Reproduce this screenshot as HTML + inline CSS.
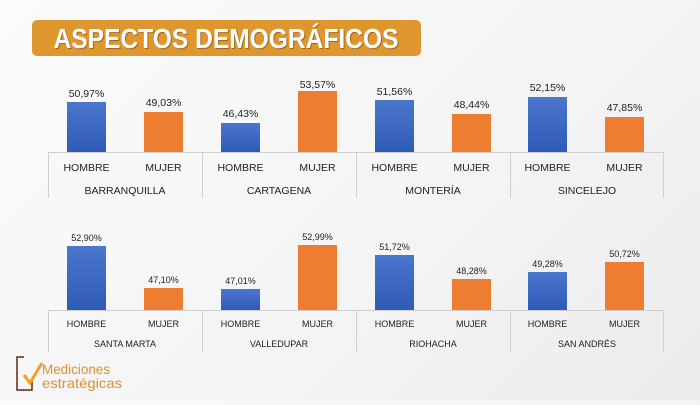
<!DOCTYPE html>
<html><head><meta charset="utf-8"><style>
html,body{margin:0;padding:0;}
body{width:700px;height:400px;overflow:hidden;background:linear-gradient(135deg,#fbfbfb 0%,#f4f4f4 60%,#ebebeb 100%);font-family:"Liberation Sans",sans-serif;}
</style></head><body>
<svg width="700" height="400" viewBox="0 0 700 400" xmlns="http://www.w3.org/2000/svg" font-family="Liberation Sans, sans-serif">
<defs>
<linearGradient id="bl" x1="0" y1="0" x2="0" y2="1"><stop offset="0" stop-color="#4a76cc"/><stop offset="1" stop-color="#2f5bb8"/></linearGradient>
</defs>
<rect x="32" y="20" width="389" height="36" rx="5" fill="#e0962e"/>
<text x="227" y="49" text-anchor="middle" font-size="28" font-weight="bold" fill="#6a3a08" opacity="0.5" textLength="345" lengthAdjust="spacingAndGlyphs">ASPECTOS DEMOGRÁFICOS</text>
<text x="226" y="48" text-anchor="middle" font-size="28" font-weight="bold" fill="#fff" textLength="345" lengthAdjust="spacingAndGlyphs">ASPECTOS DEMOGRÁFICOS</text>

<g stroke="#d0d0d0" stroke-width="1" fill="none">
<line x1="48" y1="152.5" x2="664" y2="152.5"/>
<line x1="48.5" y1="152" x2="48.5" y2="198"/><line x1="202.5" y1="152" x2="202.5" y2="198"/><line x1="356.5" y1="152" x2="356.5" y2="198"/><line x1="510.5" y1="152" x2="510.5" y2="198"/><line x1="663.5" y1="152" x2="663.5" y2="198"/>
<line x1="48" y1="310.5" x2="664" y2="310.5"/>
<line x1="48.5" y1="310" x2="48.5" y2="352"/><line x1="202.5" y1="310" x2="202.5" y2="352"/><line x1="356.5" y1="310" x2="356.5" y2="352"/><line x1="510.5" y1="310" x2="510.5" y2="352"/><line x1="663.5" y1="310" x2="663.5" y2="352"/>
</g>

<g>
<rect x="67" y="102" width="39" height="50" fill="url(#bl)"/>
<rect x="144" y="112" width="39" height="40" fill="#ed7d31"/>
<rect x="221" y="123" width="39" height="29" fill="url(#bl)"/>
<rect x="298" y="91" width="39" height="61" fill="#ed7d31"/>
<rect x="375" y="100" width="39" height="52" fill="url(#bl)"/>
<rect x="452" y="114" width="39" height="38" fill="#ed7d31"/>
<rect x="528" y="97" width="39" height="55" fill="url(#bl)"/>
<rect x="605" y="117" width="39" height="35" fill="#ed7d31"/>

<rect x="67" y="246" width="39" height="64" fill="url(#bl)"/>
<rect x="144" y="288" width="39" height="22" fill="#ed7d31"/>
<rect x="221" y="289" width="39" height="21" fill="url(#bl)"/>
<rect x="298" y="245" width="39" height="65" fill="#ed7d31"/>
<rect x="375" y="255" width="39" height="55" fill="url(#bl)"/>
<rect x="452" y="279" width="39" height="31" fill="#ed7d31"/>
<rect x="528" y="272" width="39" height="38" fill="url(#bl)"/>
<rect x="605" y="262" width="39" height="48" fill="#ed7d31"/>
</g>

<g font-size="10.5" fill="#222" text-anchor="middle">
<text x="86.5" y="97">50,97%</text><text x="163.5" y="106">49,03%</text>
<text x="240.5" y="117">46,43%</text><text x="317.5" y="88">53,57%</text>
<text x="394.5" y="95">51,56%</text><text x="471.5" y="108">48,44%</text>
<text x="547.5" y="91">52,15%</text><text x="624.5" y="111">47,85%</text>
<text x="86.5" y="171">HOMBRE</text><text x="163.5" y="171">MUJER</text>
<text x="240.5" y="171">HOMBRE</text><text x="317.5" y="171">MUJER</text>
<text x="394.5" y="171">HOMBRE</text><text x="471.5" y="171">MUJER</text>
<text x="547.5" y="171">HOMBRE</text><text x="624.5" y="171">MUJER</text>
<text x="125" y="194">BARRANQUILLA</text><text x="279" y="194">CARTAGENA</text>
<text x="433" y="194">MONTERÍA</text><text x="587" y="194">SINCELEJO</text>
</g>
<g font-size="9" fill="#222" text-anchor="middle">
<text x="86.5" y="241">52,90%</text><text x="163.5" y="283">47,10%</text>
<text x="240.5" y="284">47,01%</text><text x="317.5" y="240">52,99%</text>
<text x="394.5" y="250">51,72%</text><text x="471.5" y="274">48,28%</text>
<text x="547.5" y="267">49,28%</text><text x="624.5" y="257">50,72%</text>
<text x="86.5" y="327">HOMBRE</text><text x="163.5" y="327">MUJER</text>
<text x="240.5" y="327">HOMBRE</text><text x="317.5" y="327">MUJER</text>
<text x="394.5" y="327">HOMBRE</text><text x="471.5" y="327">MUJER</text>
<text x="547.5" y="327">HOMBRE</text><text x="624.5" y="327">MUJER</text>
<text x="125" y="347">SANTA MARTA</text><text x="279" y="347">VALLEDUPAR</text>
<text x="433" y="347">RIOHACHA</text><text x="587" y="347">SAN ANDRÉS</text>
</g>

<path d="M24 357 H17 V390 H32 V380" fill="none" stroke="#5a2a1a" stroke-width="1.5"/>
<path d="M24 375 L30 383 L42 363" fill="none" stroke="#f0a020" stroke-width="3"/>
<text x="42" y="374" font-size="14" fill="#e09030" textLength="68" lengthAdjust="spacingAndGlyphs">Mediciones</text>
<text x="42" y="388" font-size="14" fill="#e09030" textLength="80" lengthAdjust="spacingAndGlyphs">estratégicas</text>
</svg>
</body></html>
